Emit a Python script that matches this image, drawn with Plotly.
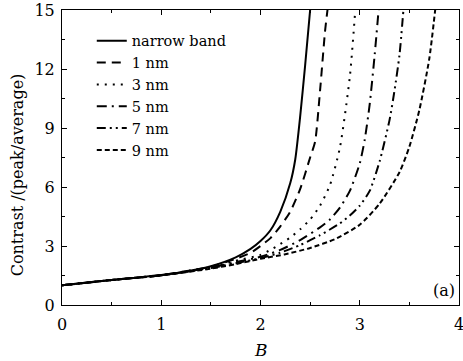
import plotly.graph_objects as go

# ---- data ----
b_nb = [0, 0.25, 0.5, 0.75, 1.0, 1.25, 1.5, 1.75, 1.9, 2.0, 2.1, 2.2, 2.3, 2.35, 2.4, 2.45, 2.5]
c_nb = [1.0, 1.14, 1.27, 1.39, 1.52, 1.7, 1.97, 2.42, 2.85, 3.25, 3.8, 4.75, 6.2, 7.4, 9.6, 12.2, 15]

b_1 = [0, 0.5, 1.0, 1.5, 1.75, 1.9, 2.0, 2.1, 2.2, 2.3, 2.4, 2.5, 2.55, 2.6, 2.65, 2.675]
c_1 = [1.0, 1.27, 1.52, 1.95, 2.35, 2.65, 3.0, 3.4, 4.0, 4.75, 5.9, 7.5, 8.3, 10.9, 13.9, 15]

b_3 = [0, 0.5, 1.0, 1.5, 1.75, 2.0, 2.1, 2.2, 2.3, 2.4, 2.5, 2.6, 2.7, 2.8, 2.9, 2.955]
c_3 = [1.0, 1.27, 1.52, 1.93, 2.25, 2.55, 2.8, 3.1, 3.43, 3.85, 4.35, 5.05, 6.1, 8.0, 11.6, 15]

b_5 = [0, 0.5, 1.0, 1.5, 1.75, 2.0, 2.2, 2.4, 2.6, 2.7, 2.8, 2.9, 3.0, 3.05, 3.1, 3.15, 3.19]
c_5 = [1.0, 1.27, 1.51, 1.9, 2.18, 2.45, 2.8, 3.3, 3.95, 4.35, 4.95, 5.8, 7.2, 8.4, 10.2, 12.7, 15]

b_7 = [0, 0.5, 1.0, 1.5, 1.75, 2.0, 2.2, 2.4, 2.6, 2.8, 2.9, 3.0, 3.1, 3.2, 3.3, 3.35, 3.4, 3.44]
c_7 = [1.0, 1.27, 1.51, 1.88, 2.12, 2.38, 2.66, 3.05, 3.55, 4.15, 4.55, 5.05, 5.8, 7.3, 9.4, 10.9, 12.7, 15]

b_9 = [0, 0.5, 1.0, 1.5, 1.75, 2.0, 2.25, 2.5, 2.75, 3.0, 3.2, 3.4, 3.5, 3.6, 3.7, 3.76]
c_9 = [1.0, 1.27, 1.5, 1.85, 2.08, 2.35, 2.58, 2.9, 3.35, 4.08, 5.15, 6.75, 8.05, 9.9, 12.5, 15]

names = ["narrow band", "1 nm", "3 nm", "5 nm", "7 nm", "9 nm"]
xs = [b_nb, b_1, b_3, b_5, b_7, b_9]
ys = [c_nb, c_1, c_3, c_5, c_7, c_9]
dashes = ["solid", "9px,6px", "2px,6px", "10px,5px,2px,5px",
          "9px,4px,2px,4px,2px,4px", "5px,3px"]

x_ticks = [0, 1, 2, 3, 4]
y_ticks = [0, 3, 6, 9, 12, 15]

FONT = "DejaVu Serif"

fig = go.Figure()
for n, x, y, d in zip(names, xs, ys, dashes):
    fig.add_trace(go.Scatter(x=x, y=y, mode="lines", name=n,
                             line=dict(color="black", width=2, dash=d, shape="spline", smoothing=0.6)))

axis_common = dict(showline=True, linecolor="black", linewidth=1, mirror="allticks",
                   ticks="inside", ticklen=5, tickwidth=1, tickcolor="black",
                   showgrid=False, zeroline=False, automargin=False,
                   ticklabeloverflow="allow",
                   tickfont=dict(family=FONT, size=16, color="black"))

fig.update_xaxes(range=[0, 4], tickvals=x_ticks, ticklabelstandoff=5,
                 minor=dict(ticks="inside", ticklen=3, dtick=0.5, tickcolor="black"),
                 **axis_common)
fig.update_yaxes(range=[0, 15], tickvals=y_ticks, ticklabelstandoff=3,
                 minor=dict(ticks="inside", ticklen=3, dtick=1.5, tickcolor="black"),
                 **axis_common)

fig.add_annotation(text="<i>B</i>", x=0.5, y=-0.153, xref="paper", yref="paper",
                   xanchor="center", yanchor="middle", showarrow=False,
                   font=dict(family=FONT, size=17, color="black"))
fig.add_annotation(text="Contrast /(peak/average)", x=-0.113, y=0.44, xref="paper", yref="paper",
                   xanchor="center", yanchor="middle", showarrow=False, textangle=-90,
                   font=dict(family=FONT, size=16, color="black"))
fig.add_annotation(text="(a)", x=0.995, y=0.01, xref="paper", yref="paper",
                   xanchor="right", yanchor="bottom", showarrow=False,
                   font=dict(family=FONT, size=16, color="black"))

fig.update_layout(
    width=463, height=361,
    margin=dict(l=62, r=4, t=10, b=56),
    paper_bgcolor="white", plot_bgcolor="white",
    showlegend=True,
    legend=dict(x=0.075, y=0.95, xanchor="left", yanchor="top",
                bgcolor="rgba(0,0,0,0)", font=dict(family=FONT, size=14.5, color="black"),
                itemwidth=30, tracegroupgap=0),
)

fig.write_html("out.html", config={"displayModeBar": False},
               post_script="document.body.style.margin='0';")
